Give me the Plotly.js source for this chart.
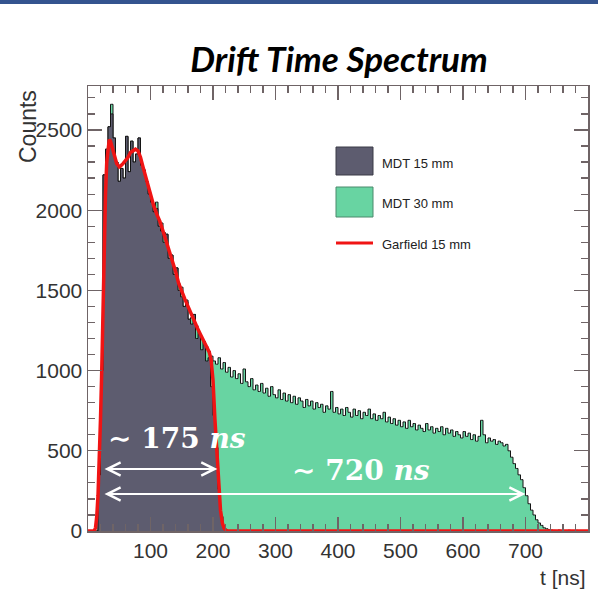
<!DOCTYPE html>
<html>
<head>
<meta charset="utf-8">
<script src="https://cdn.plot.ly/plotly-3.0.1.min.js"></script>
<style>
html,body{margin:0;padding:0;background:#fff;}
#chart{width:598px;height:592px;}
</style>
</head>
<body>
<div id="chart"></div>
<script>
// ---- data (4 ns bins, 0..800 ns) ----
const binWidth = 4;
const mdt15Counts = [
0,0,0,0,350,1000,2220,2380,2520,2600,
2450,2300,2180,2260,2200,2460,2240,2430,2300,2350,
2450,2280,2250,2180,2100,2050,1990,2010,1900,1870,
1800,1850,1700,1720,1600,1640,1500,1460,1400,1430,
1320,1290,1350,1200,1230,1130,1180,1060,1080,900,
720,520,260,90,25,5,0,0,0,0
];
const mdt30Counts = [
0,0,0,0,350,1000,2220,2380,2520,2660,
2450,2300,2180,2260,2200,2460,2240,2430,2300,2350,
2450,2280,2250,2180,2100,2050,1990,2050,1900,1920,
1860,1850,1700,1720,1600,1640,1540,1520,1400,1440,
1320,1330,1350,1280,1230,1200,1180,1150,1120,1090,
1060,1040,1080,1010,1050,990,1020,960,1000,950,
980,920,1010,930,900,950,880,910,870,920,
860,890,840,900,850,830,880,820,860,810,
850,800,840,790,830,810,770,820,780,810,
760,800,770,790,740,780,760,870,740,770,
730,760,720,770,740,710,760,720,750,700,
740,720,760,700,730,690,720,700,740,680,
710,670,700,660,690,650,680,640,690,650,
670,630,660,640,620,670,630,650,610,640,
620,650,600,640,610,630,590,620,600,580,
620,590,610,570,600,560,590,690,600,550,
580,560,570,540,560,550,530,540,500,460,
420,390,350,320,270,220,170,130,100,70,
50,35,20,14,8,6,4,3,6,2,
0,3,5,1,0,4,2,0,3,1
];
const garfieldT = [0,10,12,14,16,18,20,22,24,26,28,30,32,34,36,38,40,42,44,46,48,50,52,54,56,58,60,64,68,72,76,80,84,88,92,96,100,105,110,115,120,125,130,135,140,145,150,155,160,165,170,175,180,185,190,194,197,200,203,206,209,212,215,218,222,800];
const garfieldCounts = [0,0,20,90,220,420,700,1000,1400,1800,2100,2300,2400,2440,2430,2400,2360,2330,2300,2290,2280,2270,2275,2280,2290,2300,2310,2330,2360,2370,2380,2370,2330,2270,2210,2150,2090,2030,1975,1930,1870,1810,1750,1690,1620,1545,1490,1445,1400,1350,1305,1265,1225,1185,1145,1115,1065,940,700,480,280,130,50,15,0,0];
const xTickVals = [0,100,200,300,400,500,600,700,800];
const xTickText = ['','100','200','300','400','500','600','700','800'];
const legendNames = ['MDT 15 mm','MDT 30 mm','Garfield 15 mm'];
const span175 = [24, 207];
const span720 = [24, 700];

// ---- build ----
const centers = arr => arr.map((_, i) => i * binWidth + binWidth / 2);
const frame = '#6f6466';
const gray = '#5d5c6f', green = '#68d4a2', red = '#f01414';
const sans = 'Liberation Sans';

const traces = [
  {x: centers(mdt30Counts), y: mdt30Counts, type: 'scatter', mode: 'lines',
   line: {shape: 'hvh', color: '#141414', width: 1}, fill: 'tozeroy', fillcolor: green,
   name: legendNames[1], hoverinfo: 'skip'},
  {x: centers(mdt15Counts), y: mdt15Counts, type: 'scatter', mode: 'lines',
   line: {shape: 'hvh', color: '#141414', width: 1}, fill: 'tozeroy', fillcolor: gray,
   name: legendNames[0], hoverinfo: 'skip'},
  {x: garfieldT, y: garfieldCounts, type: 'scatter', mode: 'lines',
   line: {color: red, width: 3.5}, name: legendNames[2], hoverinfo: 'skip'}
];

const PX = v => (v - 88) / 500;      // pixel x -> paper
const PY = v => (531 - v) / 445;     // pixel y -> paper

const arrowCommon = {xref: 'x', yref: 'y', axref: 'x', ayref: 'y', text: '', showarrow: true,
  arrowhead: 5, startarrowhead: 5, arrowside: 'end+start', arrowsize: 1.3, startarrowsize: 1.3,
  arrowwidth: 2, arrowcolor: '#ffffff', standoff: 0, startstandoff: 0};
const y175 = (531 - 469) / 0.1604, y720 = (531 - 494) / 0.1604;

const layout = {
  width: 598, height: 592,
  margin: {l: 88, r: 10, t: 86, b: 61},
  paper_bgcolor: '#ffffff', plot_bgcolor: '#ffffff',
  showlegend: false,
  title: {text: 'Drift Time Spectrum', x: 0.567, xanchor: 'center', y: 0.899, yanchor: 'middle',
          xref: 'container', yref: 'container',
          font: {family: 'Lato', size: 35, weight: 'bold', style: 'italic', color: '#000'}},
  xaxis: {range: [0, 800], tickmode: 'array', tickvals: xTickVals, ticktext: xTickText,
          ticks: 'inside', ticklen: 14, tickwidth: 1.2, tickcolor: frame,
          showline: true, linecolor: frame, linewidth: 1.5, mirror: 'ticks',
          showgrid: false, zeroline: false, layer: 'above traces',
          tickfont: {family: sans, size: 21, color: '#333'},
          minor: {tickmode: 'linear', tick0: 0, dtick: 20, ticks: 'inside', ticklen: 7, tickwidth: 1.2, tickcolor: frame, showgrid: false}},
  yaxis: {range: [0, 2774], tickmode: 'linear', tick0: 0, dtick: 500,
          ticks: 'inside', ticklen: 14, tickwidth: 1.2, tickcolor: frame,
          showline: true, linecolor: frame, linewidth: 1.5, mirror: 'ticks',
          showgrid: false, zeroline: false, layer: 'above traces',
          tickfont: {family: sans, size: 21, color: '#333'},
          minor: {tickmode: 'linear', tick0: 0, dtick: 100, ticks: 'inside', ticklen: 7, tickwidth: 1.2, tickcolor: frame, showgrid: false}},
  shapes: [
    {type: 'rect', xref: 'paper', yref: 'paper', x0: PX(-2), x1: PX(600), y0: PY(4), y1: PY(-2),
     fillcolor: '#34548f', line: {width: 0}, layer: 'above'},
    {type: 'rect', xref: 'paper', yref: 'paper', x0: PX(336), x1: PX(373), y0: PY(175), y1: PY(147),
     fillcolor: gray, line: {color: '#3a3a46', width: 1}},
    {type: 'rect', xref: 'paper', yref: 'paper', x0: PX(336), x1: PX(373), y0: PY(217), y1: PY(187),
     fillcolor: green, line: {color: '#4a8a6c', width: 1}},
    {type: 'line', xref: 'paper', yref: 'paper', x0: PX(336), x1: PX(373), y0: PY(243), y1: PY(243),
     line: {color: red, width: 3}}
  ],
  annotations: [
    {xref: 'paper', yref: 'paper', x: PX(380), y: PY(163), xanchor: 'left', yanchor: 'middle', showarrow: false,
     text: legendNames[0], font: {family: sans, size: 13, color: '#222'}},
    {xref: 'paper', yref: 'paper', x: PX(380), y: PY(203), xanchor: 'left', yanchor: 'middle', showarrow: false,
     text: legendNames[1], font: {family: sans, size: 13, color: '#222'}},
    {xref: 'paper', yref: 'paper', x: PX(380), y: PY(244), xanchor: 'left', yanchor: 'middle', showarrow: false,
     text: legendNames[2], font: {family: sans, size: 13, color: '#222'}},
    {xref: 'paper', yref: 'paper', x: PX(28), y: PY(127), xanchor: 'center', yanchor: 'middle', showarrow: false,
     textangle: -90, text: 'Counts', font: {family: sans, size: 23, color: '#333'}},
    {xref: 'paper', yref: 'paper', x: 1, y: PY(577), xanchor: 'right', yanchor: 'middle', showarrow: false,
     text: 't [ns]', font: {family: sans, size: 21, color: '#333'}},
    Object.assign({x: span175[1], y: y175, ax: span175[0], ay: y175}, arrowCommon),
    Object.assign({x: span720[1], y: y720, ax: span720[0], ay: y720}, arrowCommon),
    {xref: 'paper', yref: 'paper', x: PX(177), y: PY(438), xanchor: 'center', yanchor: 'middle', showarrow: false,
     text: '∼ 175 <i>ns</i>', font: {family: 'DejaVu Serif', size: 28, weight: 'bold', color: '#ffffff'}},
    {xref: 'paper', yref: 'paper', x: PX(361), y: PY(470), xanchor: 'center', yanchor: 'middle', showarrow: false,
     text: '∼ 720 <i>ns</i>', font: {family: 'DejaVu Serif', size: 28, weight: 'bold', color: '#ffffff'}}
  ]
};

Plotly.newPlot('chart', traces, layout, {displayModeBar: false, staticPlot: true});
</script>
</body>
</html>
